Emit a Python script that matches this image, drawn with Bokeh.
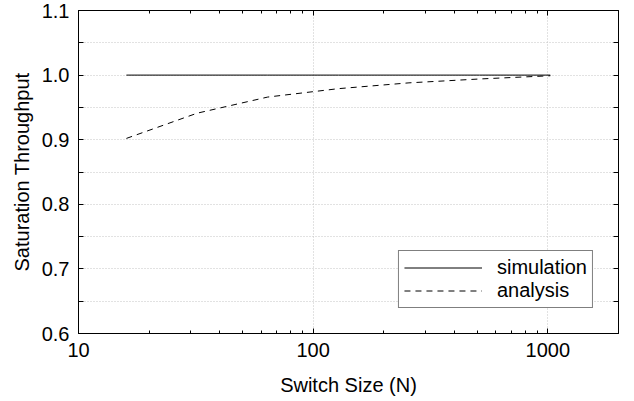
from bokeh.plotting import figure
from bokeh.models import (FixedTicker, LinearAxis, LogAxis, Legend, LegendItem,
                          PrintfTickFormatter, CustomJSTickFormatter, ColumnDataSource)
from bokeh.embed import file_html
from bokeh.resources import INLINE

# ---- data ----
switch_sizes = [16, 32, 64, 128, 256, 512, 1024]
simulation = [1.0, 1.0, 1.0, 1.0, 1.0, 1.0, 1.0]
analysis = [0.902, 0.941, 0.966, 0.979, 0.988, 0.994, 0.999]

x_major = [10, 100, 1000]
x_minor = [20, 30, 40, 50, 60, 70, 80, 90, 200, 300, 400, 500, 600, 700, 800, 900]
x_grid = [100, 1000]
y_major = [0.6, 0.7, 0.8, 0.9, 1.0, 1.1]
y_minor = [0.65, 0.75, 0.85, 0.95, 1.05]

FONT = "Liberation Sans"
TICK_FS = "20px"
LABEL_FS = "20px"

src = ColumnDataSource(dict(n=switch_sizes, sim=simulation, ana=analysis))

p = figure(width=634, height=401, x_axis_type="log",
           x_range=(10, 2000), y_range=(0.6, 1.1),
           output_backend="svg", toolbar_location=None,
           min_border_left=78, min_border_right=16,
           min_border_top=10, min_border_bottom=68)
p.background_fill_color = "white"
p.border_fill_color = "white"
p.outline_line_color = "black"
p.outline_line_width = 1

r1 = p.line("n", "sim", source=src, line_color="black", line_width=1)
r2 = p.line("n", "ana", source=src, line_color="black", line_width=1,
            line_dash="6 5")


def style_axis(ax, xdir):
    ax.axis_line_color = "black"
    ax.axis_line_width = 1
    ax.major_tick_line_color = "black"
    ax.minor_tick_line_color = "black"
    ax.major_tick_in = 5
    ax.major_tick_out = 0
    ax.minor_tick_in = 3 if xdir else 5
    ax.minor_tick_out = 0
    ax.major_label_text_font = FONT
    ax.major_label_text_font_size = TICK_FS
    ax.major_label_text_color = "black"
    ax.axis_label_text_font = FONT
    ax.axis_label_text_font_size = LABEL_FS
    ax.axis_label_text_font_style = "normal"
    ax.axis_label_text_color = "black"


xt = FixedTicker(ticks=x_major, minor_ticks=x_minor)
yt = FixedTicker(ticks=y_major, minor_ticks=y_minor)

bx = p.xaxis[0]
bx.ticker = xt
bx.formatter = PrintfTickFormatter(format="%d")
bx.axis_label = "Switch Size (N)"
style_axis(bx, True)
bx.major_label_standoff = 9
bx.axis_label_standoff = 14

ly = p.yaxis[0]
ly.ticker = yt
ly.formatter = PrintfTickFormatter(format="%.1f")
ly.axis_label = "Saturation Throughput"
style_axis(ly, False)
ly.major_label_standoff = 9
ly.axis_label_standoff = 6

blank = CustomJSTickFormatter(code="return ''")
top = LogAxis(ticker=FixedTicker(ticks=x_major, minor_ticks=x_minor), formatter=blank)
style_axis(top, True)
top.major_label_standoff = 0
p.add_layout(top, "above")

right = LinearAxis(ticker=FixedTicker(ticks=y_major, minor_ticks=y_minor), formatter=blank)
style_axis(right, False)
right.major_label_standoff = 0
p.add_layout(right, "right")

p.xgrid.ticker = FixedTicker(ticks=x_grid)
p.ygrid.ticker = FixedTicker(ticks=sorted(y_major + y_minor))
for g in (p.xgrid, p.ygrid):
    g.grid_line_color = "#c4c4c4"
    g.grid_line_dash = "1 2"
    g.grid_line_width = 1

legend = Legend(items=[LegendItem(label="simulation", renderers=[r1]),
                       LegendItem(label="analysis", renderers=[r2])],
                location="bottom_right", margin=25, padding=5, spacing=0,
                glyph_width=78, glyph_height=23, label_height=23,
                label_standoff=15,
                border_line_color="black", border_line_width=1,
                background_fill_color="white", background_fill_alpha=1,
                label_text_font=FONT, label_text_font_size="20px",
                label_text_color="black")
p.add_layout(legend)

open("out.html", "w").write(file_html(p, INLINE))
